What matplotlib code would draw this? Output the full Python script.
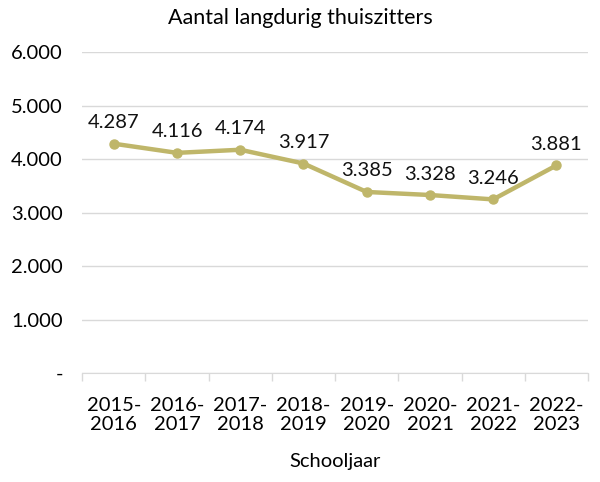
import matplotlib
matplotlib.use("Agg")
import matplotlib.pyplot as plt
from matplotlib.ticker import FixedLocator

plt.rcParams['font.family'] = ['Lato', 'DejaVu Sans']

categories = ["2015-\n2016", "2016-\n2017", "2017-\n2018", "2018-\n2019",
              "2019-\n2020", "2020-\n2021", "2021-\n2022", "2022-\n2023"]
values = [4287, 4116, 4174, 3917, 3385, 3328, 3246, 3881]
yticks = [0, 1000, 2000, 3000, 4000, 5000, 6000]
ytick_labels = ["-", "1.000", "2.000", "3.000", "4.000", "5.000", "6.000"]

def fmt(v):
    return f"{v:,}".replace(",", ".")

FS = 14.5
color = '#BFB66A'
fig = plt.figure(figsize=(6, 4.82), dpi=100)
ax = fig.add_axes([0.137, 0.226, 0.843, 0.666])
x = list(range(len(categories)))
ax.plot(x, values, color=color, lw=3.2, marker='o', ms=6.5, zorder=3)
for xi, v in zip(x, values):
    ax.annotate(fmt(v), (xi, v), xytext=(0, 9), textcoords='offset points',
                ha='center', va='bottom', fontsize=FS, color='#111111')

ax.set_xlim(-0.5, len(categories) - 0.5)
ax.set_ylim(0, 6000)
ax.set_yticks(yticks)
ax.set_yticklabels(ytick_labels, fontsize=FS)
ax.set_xticks(x)
ax.set_xticklabels(categories, fontsize=FS, linespacing=1.2)
ax.xaxis.set_minor_locator(FixedLocator([i - 0.5 for i in range(len(categories) + 1)]))
ax.tick_params(axis='x', which='major', length=0, pad=17)
ax.tick_params(axis='x', which='minor', length=6, color='#D9D9D9', width=1)
ax.tick_params(axis='y', length=0, pad=14)
ax.grid(axis='y', color='#D9D9D9', lw=1)
ax.set_axisbelow(True)
for s in ['top', 'right', 'left']:
    ax.spines[s].set_visible(False)
ax.spines['bottom'].set_color('#D9D9D9')
ax.set_xlabel("Schooljaar", fontsize=FS, labelpad=14)
fig.text(0.5, 0.962, "Aantal langdurig thuiszitters", ha='center', va='center', fontsize=15.5)
fig.savefig("out.png", dpi=100)
